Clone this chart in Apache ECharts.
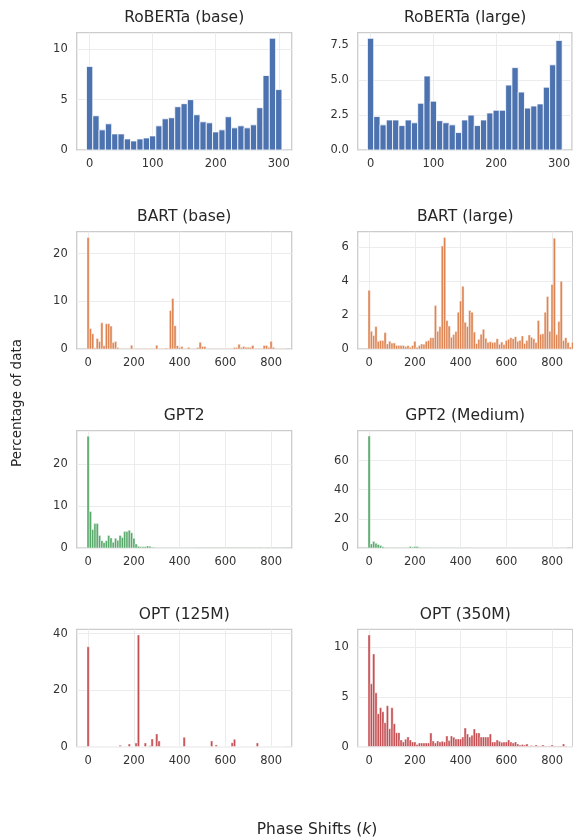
<!DOCTYPE html>
<html><head><meta charset="utf-8">
<script src="https://cdn.jsdelivr.net/npm/echarts@6/dist/echarts.min.js"></script>
<style>html,body{margin:0;padding:0;background:#fff}#c{width:573px;height:839px}</style>
</head><body><div id="c"></div>
<script>
// ---- data (percentage of data per phase-shift bin) ----
const ROBERTA_BIN = 10;   // bin width for RoBERTa panels (centres 0..300)
const LONG_BIN = 10;      // bin width for the other panels (centres 0..)
const robertaBase = [8.3,3.4,2.0,2.6,1.6,1.6,1.1,0.9,1.1,1.2,1.4,2.4,3.1,3.2,4.3,4.6,5.0,3.5,2.8,2.7,1.8,2.0,3.3,2.2,2.4,2.2,2.5,4.2,7.4,11.1,6.0];
const robertaLarge = [8.0,2.4,1.8,2.15,2.15,1.75,2.15,1.95,3.35,5.3,3.5,2.1,1.95,1.8,1.25,2.15,2.5,1.75,2.15,2.65,2.85,2.85,4.65,5.9,4.15,3.0,3.15,3.3,4.5,6.1,7.85];
const bartBase = [23.4,4.3,3.2,0.2,2.2,1.55,5.5,0.7,5.3,5.3, 4.8,1.35,1.55,0.3,0.1,0.05,0.05,0.05,0.1,0.8, 0.1,0.05,0.05,0.05,0.05,0.1,0.1,0.1,0.1,0.1, 0.8,0.1,0.1,0.1,0.2,0.1,8.1,10.6,4.9,0.7, 0.3,0.5,0.05,0.05,0.35,0.05,0.05,0.1,0.3,1.4, 0.55,0.55,0.05,0.05,0.05,0.05,0.05,0.05,0.05,0.05, 0.05,0.05,0.05,0.05,0.3,0.3,1.0,0.3,0.55,0.35, 0.35,0.35,0.75,0.1,0.1,0.1,0.1,0.75,0.75,0.35, 1.6,0.35,0.05,0.05,0.05,0.05,0.05];
const bartLarge = [3.46,1.05,0.8,1.32,0.45,0.5,0.5,0.97,0.3,0.45, 0.35,0.35,0.2,0.2,0.2,0.2,0.15,0.2,0.1,0.2, 0.45,0.1,0.2,0.3,0.28,0.45,0.5,0.67,0.67,2.57, 1.05,1.32,6.08,6.58,1.68,1.35,0.69,0.85,1.03,2.17, 2.83,3.7,1.58,1.32,2.27,2.17,1.0,0.32,0.57,0.87, 1.17,0.63,0.4,0.43,0.38,0.4,0.61,0.28,0.41,0.26, 0.5,0.57,0.67,0.61,0.73,0.45,0.51,0.77,0.32,0.5, 0.83,0.69,0.6,0.38,1.68,0.87,0.9,2.17,3.1,1.05, 3.81,6.54,0.85,1.62,4.0,0.5,0.67,0.38,0.12,0.4];
const gpt2 = [26.6,8.7,4.4,5.8,5.8,2.95,1.75,1.3,1.75,2.95, 2.4,1.35,2.3,1.85,2.95,2.5,3.9,3.9,4.2,3.6, 2.3,0.95,0.4,0.3,0.3,0.3,0.5,0.4,0.2,0.1, 0.08,0.08,0.08,0.08,0.08,0.08,0.08,0.08,0.08,0.08, 0.08,0.08,0.08,0.08,0.08,0.08,0.08,0.05,0.03,0.03, 0.03,0.03,0.03,0.03,0.03,0.03,0.03,0.03,0.03,0.03, 0.03,0.03,0.03,0.03,0.05,0.03,0.03,0.05,0.03,0.03, 0.05,0.03,0.03,0.03,0.05,0.03,0.03,0.05,0.03,0.03, 0.05,0.03,0.03,0.05,0.03,0.03,0.03];
const gpt2Medium = [76.8,2.8,4.4,3.2,2.4,1.8,0.9,0.4,0.2,0.2, 0.2,0.2,0.2,0.2,0.2,0.2,0.2,0.2,1.0,0.6, 1.1,1.0,0.3,0.25,0.25,0.25,0.25,0.25,0.25,0.25, 0.25,0.25,0.25,0.25,0.25,0.25,0.25,0.25,0.25,0.25, 0.25,0.25,0.25,0.25,0.25,0,0,0,0,0, 0,0,0,0,0,0,0,0,0,0, 0,0,0,0,0,0,0,0,0,0, 0,0,0,0,0,0,0,0,0,0, 0,0,0,0,0,0,0];
const opt125m = [35.3,0,0,0,0,0,0.05,0.05,0.05,0.05, 0.05,0.05,0.05,0.05,0.5,0.05,0.05,0.05,0.9,0.05, 0.05,1.3,39.5,0.05,0.05,1.3,0.05,0.3,2.7,0.05, 4.5,2.0,0.05,0.05,0.05,0.05,0.05,0.05,0.05,0.05, 0.05,0.05,3.3,0.05,0.05,0.05,0.05,0.05,0.05,0.05, 0.05,0.05,0.05,0.05,2.0,0.05,0.6,0.05,0.05,0.05, 0.05,0.05,0.05,1.4,2.6,0.05,0.05,0.05,0.05,0.05, 0.05,0.05,0.05,0.05,1.3,0.05,0.05,0.05,0.05,0.05, 0.05,0.05,0.05,0.05,0.05,0.05,0.05];
const opt350m = [11.2,6.3,9.3,5.4,3.3,3.9,3.5,2.4,4.1,1.8, 3.9,2.3,1.4,1.4,0.67,0.47,0.74,0.97,0.67,0.47, 0.47,0.2,0.37,0.37,0.37,0.37,0.37,1.37,0.57,0.37, 0.57,0.47,0.53,0.47,1.07,0.6,1.07,0.94,0.77,0.77, 0.77,0.97,1.87,1.27,0.97,1.14,1.77,1.37,1.37,0.97, 0.97,0.97,0.97,1.27,0.47,0.47,0.67,0.53,0.43,0.47, 0.47,0.67,0.47,0.37,0.47,0.27,0.15,0.2,0.15,0.27, 0.05,0.1,0.05,0.17,0.05,0.05,0.17,0.05,0.05,0.05, 0.17,0.05,0.05,0.05,0.05,0.27,0.05];

const titles = ['RoBERTa (base)','RoBERTa (large)','BART (base)','BART (large)','GPT2','GPT2 (Medium)','OPT (125M)','OPT (350M)'];
const seriesValues = [robertaBase, robertaLarge, bartBase, bartLarge, gpt2, gpt2Medium, opt125m, opt350m];
const yTicks = [[0,5,10],[0,2.5,5,7.5],[0,10,20],[0,2,4,6],[0,10,20],[0,20,40,60],[0,20,40],[0,5,10]];
const yMax = [11.65, 8.4, 24.6, 6.92, 27.9, 80.5, 41.5, 11.77];
const xTicksRoberta = [0,100,200,300];
const xTicksLong = [0,200,400,600,800];
const colors = ['#4C72B0','#4C72B0','#DD8452','#DD8452','#55A868','#55A868','#C44E52','#C44E52'];

// ---- layout ----
const FONT = 'DejaVu Sans';
const LEFTS = [76.7, 357.7];
const TOPS = [32.7, 231.7, 430.7, 629.3];
const W = 215, H = 117.3;
const TICK_FS = 11.5;

const grids = [], xAxes = [], yAxes = [], series = [], graphics = [];
for (let i = 0; i < 8; i++) {
  const col = i % 2, row = Math.floor(i / 2);
  const isRoberta = row === 0;
  const bin = isRoberta ? ROBERTA_BIN : LONG_BIN;
  grids.push({left: LEFTS[col], top: TOPS[row], width: W, height: H, show: true,
    borderColor: '#cccccc', borderWidth: 1.3, backgroundColor: 'transparent', containLabel: false});
  const xt = isRoberta ? xTicksRoberta : xTicksLong;
  xAxes.push({type: 'value', gridIndex: i,
    min: isRoberta ? -20.5 : -50, max: isRoberta ? 320.5 : 890,
    axisLine: {show: false},
    axisTick: {show: false, customValues: xt},
    axisLabel: {customValues: xt, color: '#333', fontSize: TICK_FS, fontFamily: FONT, margin: 8},
    splitLine: {show: true, lineStyle: {color: '#ececec', width: 1}}
  });
  const yt = yTicks[i];
  const fmt = i === 1 ? (v => Number(v).toFixed(1)) : (v => String(v));
  yAxes.push({type: 'value', gridIndex: i, min: 0, max: yMax[i],
    axisLine: {show: false},
    axisTick: {show: false, customValues: yt},
    axisLabel: {customValues: yt, formatter: fmt, color: '#333', fontSize: TICK_FS, fontFamily: FONT, margin: 9},
    splitLine: {show: true, lineStyle: {color: '#ececec', width: 1}}
  });
  const color = colors[i];
  series.push({type: 'custom', xAxisIndex: i, yAxisIndex: i, clip: true,
    data: seriesValues[i].map((v, j) => [j * bin, v]),
    encode: {x: 0, y: 1},
    renderItem: function (params, api) {
      const x = api.value(0), y = api.value(1);
      const p0 = api.coord([x - bin / 2, y]);
      const p1 = api.coord([x + bin / 2, 0]);
      return {type: 'rect',
        shape: {x: p0[0], y: p0[1], width: p1[0] - p0[0], height: p1[1] - p0[1]},
        style: {fill: color, stroke: '#ffffff', lineWidth: isRoberta ? 0.8 : 0.45}};
    }
  });
  graphics.push({type: 'text', x: LEFTS[col] + W / 2, y: TOPS[row] - 14.7,
    style: {text: titles[i], fill: '#262626', font: '15.5px "' + FONT + '"',
      textAlign: 'center', textVerticalAlign: 'middle', align: 'center', verticalAlign: 'middle'}});
}
graphics.push({type: 'text', x: 17, y: 403, rotation: Math.PI / 2,
  style: {text: 'Percentage of data', fill: '#262626', font: '13.5px "' + FONT + '"',
    textAlign: 'center', textVerticalAlign: 'middle', align: 'center', verticalAlign: 'middle'}});
graphics.push({type: 'text', x: 317, y: 830,
  style: {text: '{a|Phase Shifts (}{i|k}{a|)}', fill: '#262626', font: '15.5px "' + FONT + '"',
    textAlign: 'center', textVerticalAlign: 'middle', align: 'center', verticalAlign: 'middle',
    rich: {a: {fontSize: 15.5, fontFamily: FONT, fill: '#262626', color: '#262626'},
           i: {fontSize: 15.5, fontFamily: FONT, fontStyle: 'italic', fill: '#262626', color: '#262626'}}}});

const chart = echarts.init(document.getElementById('c'), null, {renderer: 'canvas'});
chart.setOption({animation: false, backgroundColor: '#ffffff',
  grid: grids, xAxis: xAxes, yAxis: yAxes, series: series, graphic: graphics});
</script></body></html>
